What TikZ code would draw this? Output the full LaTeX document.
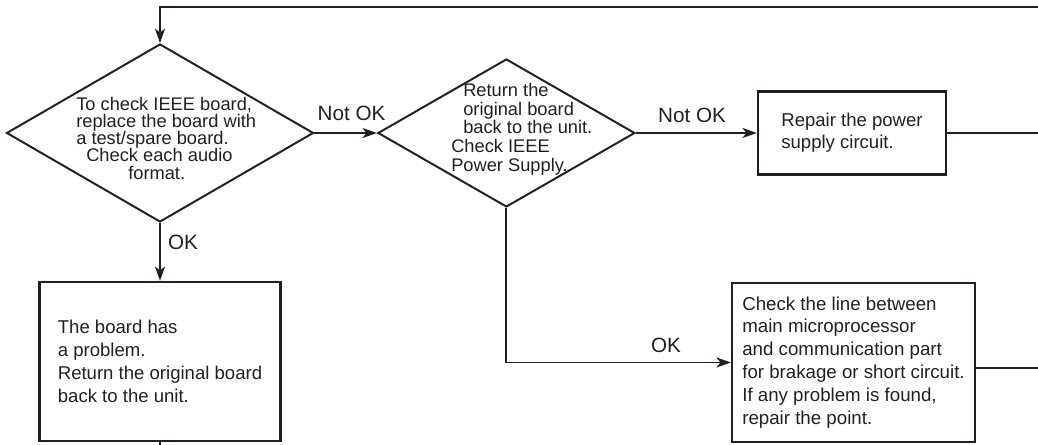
\documentclass[tikz,border=0pt]{standalone}
\usepackage{fontspec}
\setmainfont{Liberation Sans}
\usepackage{tikz}
\usetikzlibrary{shapes.geometric,arrows.meta,positioning}
\definecolor{ink}{HTML}{231f20}

\newcommand{\flowfont}{\fontsize{13}{12.2}\selectfont}
\newcommand{\flowlblfont}{\fontsize{14.7}{16}\selectfont}

\tikzset{
  flowline/.style={line width=1.4pt, draw=ink},
  flowarrow/.style={flowline, -{Stealth[length=0.36cm, width=0.25cm, inset=0.1cm]}},
  decision/.style={diamond, draw=ink, line width=1.4pt, inner sep=0pt},
  stepbox/.style={rectangle, draw=ink, line width=1.6pt, align=left, text=ink},
  flowtext/.style={text=ink, inner sep=0pt, align=left, anchor=north west},
  flowlabel/.style={text=ink, inner sep=0pt, font=\flowlblfont}
}

\begin{document}
\begin{tikzpicture}
  \useasboundingbox (0,0) rectangle (25.95,11.125);

  % Decisions
  \node[decision, minimum width=7.675cm, minimum height=4.45cm] (boardtest) at (4.0, 7.8) {};
  \node[flowtext, font=\flowfont] (boardtesttxt) at (1.9, 8.7)
    {To check IEEE board,\\
     replace the board with\\
     a test/spare board.\\
     \hspace*{0.25cm}Check each audio\\
     \hspace*{1.3cm}format.};

  \node[decision, minimum width=6.425cm, minimum height=3.7cm] (supplytest) at (12.66, 7.8) {};
  \node[flowtext, font=\fontsize{13}{13.3}\selectfont] (supplytesttxt) at (11.275, 9.05)
    {\hspace*{0.3cm}Return the\\
     \hspace*{0.3cm}original board\\
     \hspace*{0.3cm}back to the unit.\\
     Check IEEE\\
     Power Supply.};

  % Action boxes
  \node[stepbox, minimum width=4.7cm, minimum height=2.075cm,
        font=\fontsize{13.2}{15.6}\selectfont] (repair) at (21.3, 7.8)
    {Repair the power\\supply circuit.};
  \node[stepbox, minimum width=6.025cm, minimum height=3.975cm,
        font=\fontsize{13.2}{16.3}\selectfont] (boardbad) at (4.0, 2.0875)
    {The board has\\a problem.\\Return the original board\\back to the unit.};
  \node[stepbox, minimum width=6.075cm, minimum height=3.975cm,
        font=\fontsize{13.3}{16.3}\selectfont] (linecheck) at (21.3375, 2.0625)
    {Check the line between\\main microprocessor\\and communication part\\for brakage or short circuit.\\If any problem is found,\\repair the point.};

  % Free ends at the page edge
  \coordinate (loopin) at (25.95, 10.95);
  \coordinate (repairout) at (25.95, 7.8);
  \coordinate (lineout) at (25.95, 1.925);
  \coordinate (boardout) at (4.0, 0);

  % Connectors
  \draw[flowarrow] (loopin) -| (boardtest.north);
  \draw[flowarrow] (boardtest.east) -- (supplytest.west);
  \draw[flowarrow] (supplytest.east) -- (repair.west);
  \draw[flowline] (repair.east) -- (repairout);
  \draw[flowarrow] (boardtest.south) -- (boardbad.north);
  \draw[flowarrow] (supplytest.south) |- (linecheck.west);
  \draw[flowline] (linecheck.east |- lineout) -- (lineout);
  \draw[flowline] (boardbad.south) -- (boardout);

  % Labels
  \node[flowlabel] (notok1) at (8.79, 8.29) {Not OK};
  \node[flowlabel] (notok2) at (17.3, 8.25) {Not OK};
  \node[flowlabel] (ok1) at (4.575, 5.075) {OK};
  \node[flowlabel] (ok2) at (16.65, 2.5) {OK};
\end{tikzpicture}
\end{document}
